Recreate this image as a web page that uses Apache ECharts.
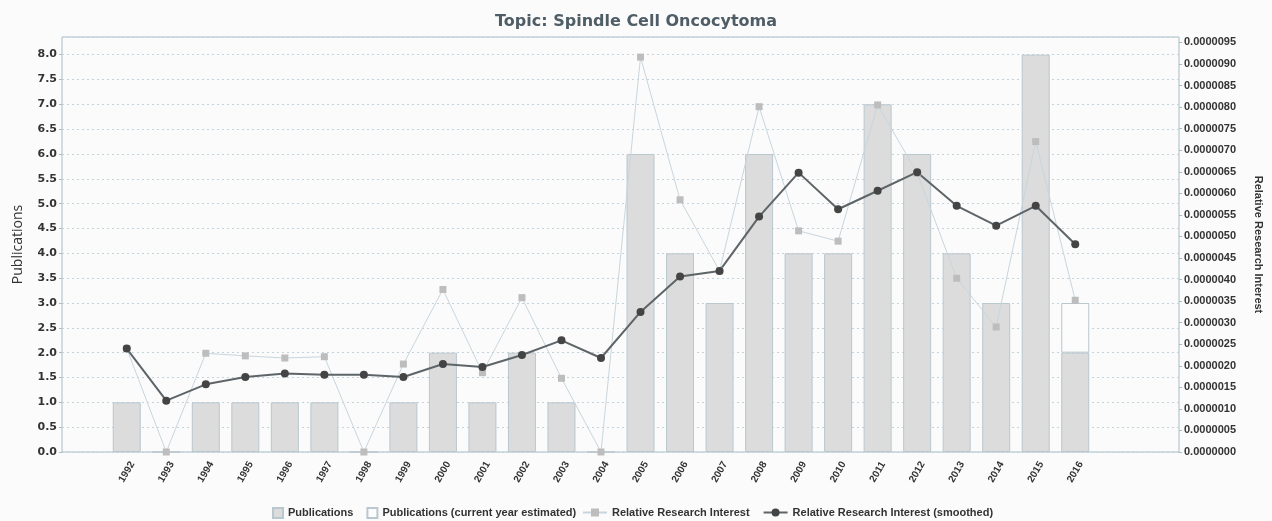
<!DOCTYPE html>
<html>
<head>
<meta charset="utf-8">
<script src="https://cdn.jsdelivr.net/npm/echarts@6/dist/echarts.min.js"></script>
<style>
  html, body { margin: 0; padding: 0; background: #fbfbfb; }
  #chart { width: 1272px; height: 521px; }
</style>
</head>
<body>
<div id="chart"></div>
<script>
// values
const years = ['1992', '1993', '1994', '1995', '1996', '1997', '1998', '1999', '2000', '2001', '2002', '2003', '2004',
  '2005', '2006', '2007', '2008', '2009', '2010', '2011', '2012', '2013', '2014', '2015', '2016']
const publications = [1, 0, 1, 1, 1, 1, 0, 1, 2, 1, 2, 1, 0, 6, 4, 3, 6, 4, 4, 7, 6, 4, 3, 8, 2]
// extra part on top of the current year bar (estimated total 3)
const estimatedExtra = [null, null, null, null, null, null, null, null, null, null, null, null, null,
  null, null, null, null, null, null, null, null, null, null, null, 1]
// relative research interest, in units of 1e-6
const interest = [2.40, 0, 2.29, 2.23, 2.18, 2.21, 0, 2.04, 3.77, 1.84, 3.58, 1.71, 0,
  9.16, 5.85, 4.20, 8.01, 5.13, 4.89, 8.05, 6.47, 4.03, 2.90, 7.20, 3.52]
const interestSmoothed = [2.40, 1.19, 1.57, 1.74, 1.82, 1.79, 1.79, 1.74, 2.04, 1.97, 2.25, 2.59, 2.18,
  3.25, 4.07, 4.20, 5.46, 6.48, 5.63, 6.06, 6.49, 5.71, 5.25, 5.71, 4.82]

const PUB_MAX = 8.355
const RRI_MAX = 9.626e-6
const FONT = '"Liberation Sans", Arial, sans-serif'
const AXIS_COLOR = '#a7bcc7'

const chart = echarts.init(document.getElementById('chart'))

const legendText = { fontFamily: FONT, fontSize: 11, fontWeight: 'bold', color: '#333' }

const option = {
  backgroundColor: '#fbfbfb',
  animation: false,
  title: {
    text: 'Topic: Spindle Cell Oncocytoma',
    left: 'center',
    top: 9,
    textStyle: { fontFamily: '"DejaVu Sans", sans-serif', fontSize: 16, fontWeight: 'bold', color: '#4f5d66' },
  },
  // two legends so the bar swatches stay square and the line swatches stay long
  legend: [
    {
      top: 502,
      left: 267,
      itemGap: 13,
      itemWidth: 10,
      itemHeight: 10,
      textStyle: legendText,
      data: [
        { name: 'Publications', icon: 'rect' },
        { name: 'Publications (current year estimated)', icon: 'rect' },
      ],
    },
    {
      top: 502,
      left: 577,
      itemGap: 13,
      itemWidth: 24,
      itemHeight: 10,
      textStyle: legendText,
      data: ['Relative Research Interest', 'Relative Research Interest (smoothed)'],
    },
  ],
  // grid 0 = frame with both value axes, grid 1 = where the categories sit
  grid: [
    { left: 62, right: 90, top: 37, bottom: 69, show: true, borderColor: AXIS_COLOR, borderWidth: 1 },
    { left: 107, right: 177, top: 37, bottom: 69 },
  ],
  xAxis: [
    { gridIndex: 0, type: 'value', min: 0, max: 1, show: false },
    {
      gridIndex: 1,
      type: 'category',
      data: years,
      axisLine: { show: false },
      axisTick: { show: false },
      axisLabel: {
        rotate: 60,
        margin: 20,
        align: 'center',
        verticalAlign: 'middle',
        fontFamily: FONT,
        fontSize: 10,
        fontWeight: 'bold',
        color: '#333',
      },
    },
  ],
  yAxis: [
    {
      gridIndex: 0,
      type: 'value',
      position: 'left',
      min: 0,
      max: PUB_MAX,
      interval: 0.5,
      name: 'Publications',
      nameLocation: 'middle',
      nameGap: 37,
      nameTextStyle: { fontFamily: '"Open Sans", sans-serif', fontSize: 14, color: '#333' },
      axisLine: { show: false },
      axisTick: { show: true, length: 3, lineStyle: { color: AXIS_COLOR } },
      axisLabel: {
        showMaxLabel: false,
        margin: 5,
        fontFamily: '"DejaVu Sans", sans-serif',
        fontSize: 11,
        fontWeight: 'bold',
        color: '#333',
        formatter: (v) => v.toFixed(1),
      },
      splitLine: { lineStyle: { type: [2, 3], color: '#c5d3dc' } },
    },
    {
      gridIndex: 0,
      type: 'value',
      position: 'right',
      min: 0,
      max: RRI_MAX,
      interval: 5e-7,
      name: 'Relative Research Interest',
      nameLocation: 'middle',
      nameGap: 74,
      nameRotate: -90,
      nameTextStyle: { fontFamily: FONT, fontSize: 11, fontWeight: 'bold', color: '#333' },
      axisLine: { show: false },
      axisTick: { show: true, length: 3, lineStyle: { color: AXIS_COLOR } },
      axisLabel: {
        showMaxLabel: false,
        margin: 5,
        fontFamily: FONT,
        fontSize: 11,
        fontWeight: 'bold',
        color: '#333',
        formatter: (v) => v.toFixed(7),
      },
      splitLine: { show: false },
    },
    { gridIndex: 1, type: 'value', min: 0, max: PUB_MAX, show: false, splitLine: { show: false } },
    { gridIndex: 1, type: 'value', min: 0, max: RRI_MAX, show: false, splitLine: { show: false } },
  ],
  series: [
    {
      name: 'Publications',
      type: 'bar',
      xAxisIndex: 1,
      yAxisIndex: 2,
      stack: 'pubs',
      barWidth: 28,
      itemStyle: { color: '#dcdcdc', borderColor: '#b9c7cf', borderWidth: 1 },
      data: publications,
    },
    {
      name: 'Publications (current year estimated)',
      type: 'bar',
      xAxisIndex: 1,
      yAxisIndex: 2,
      stack: 'pubs',
      barWidth: 28,
      itemStyle: { color: '#fcfcfc', borderColor: '#b9c7cf', borderWidth: 1 },
      data: estimatedExtra,
    },
    {
      name: 'Relative Research Interest',
      type: 'line',
      xAxisIndex: 1,
      yAxisIndex: 3,
      symbol: 'rect',
      symbolSize: 7,
      itemStyle: { color: '#bdbdbd' },
      lineStyle: { color: '#c8d5dd', width: 1 },
      data: interest.map((v) => v * 1e-6),
    },
    {
      name: 'Relative Research Interest (smoothed)',
      type: 'line',
      xAxisIndex: 1,
      yAxisIndex: 3,
      symbol: 'circle',
      symbolSize: 8,
      itemStyle: { color: '#444' },
      lineStyle: { color: '#5e6568', width: 2 },
      data: interestSmoothed.map((v) => v * 1e-6),
    },
  ],
}

chart.setOption(option)
</script>
</body>
</html>
